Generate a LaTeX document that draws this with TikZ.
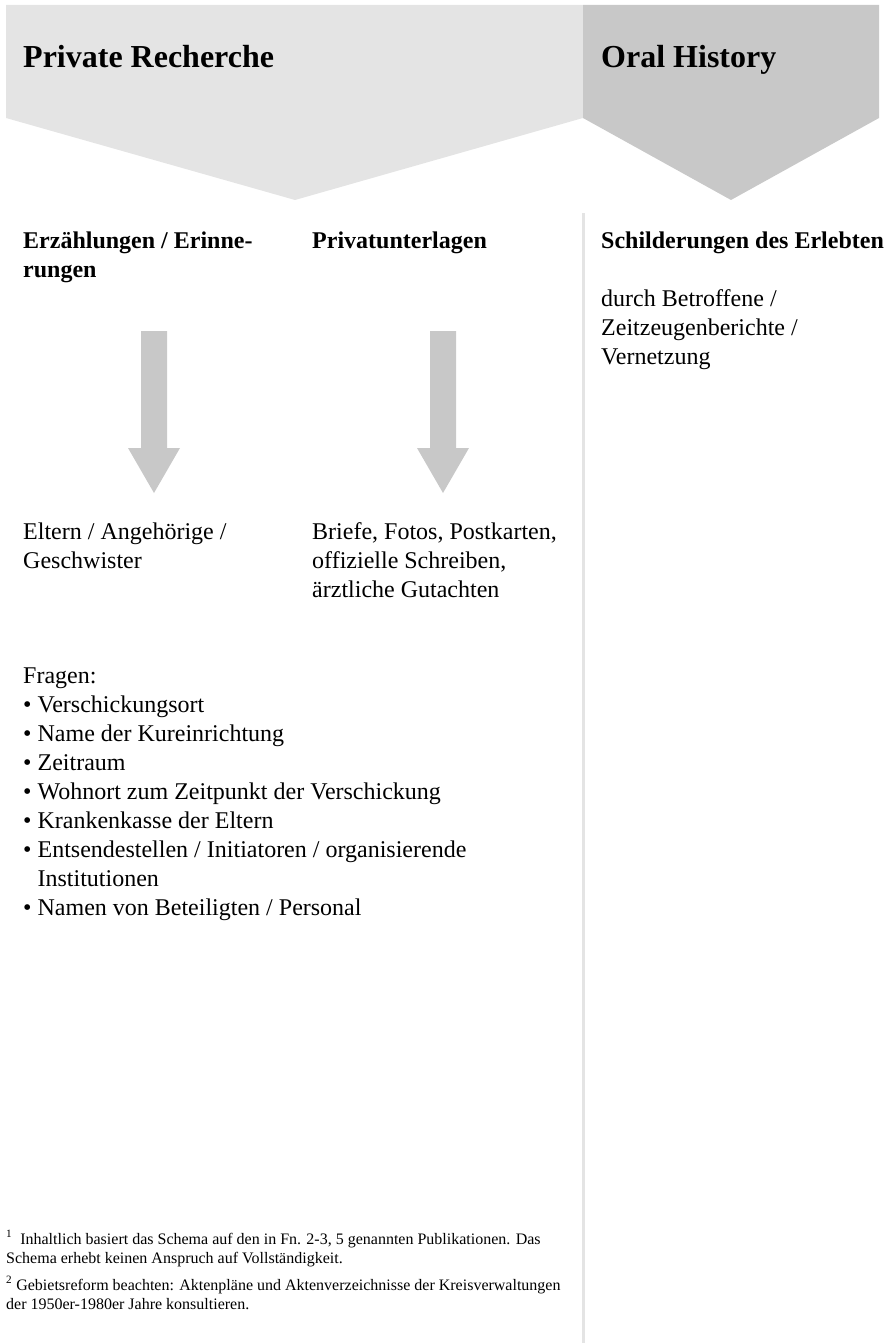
\documentclass[tikz,border=0pt]{standalone}
\usepackage{fontspec}
\setmainfont{Liberation Serif}
\usepackage{tikz}
\definecolor{headlight}{HTML}{E4E4E4}
\definecolor{headdark}{HTML}{C8C8C8}
\definecolor{arrowgray}{HTML}{C8C8C8}
\definecolor{rulegray}{HTML}{E4E4E4}
\tikzset{
  title/.style={anchor=base west, inner sep=0pt, font=\fontsize{32}{38}\selectfont\bfseries},
  heading/.style={anchor=base west, inner sep=0pt, align=left, font=\fontsize{24}{29}\selectfont\bfseries},
  body/.style={anchor=base west, inner sep=0pt, align=left, font=\fontsize{24}{29}\selectfont},
  fnote/.style={anchor=base west, inner sep=0pt, align=left, font=\fontsize{16}{19}\selectfont},
}

\begin{document}
\begin{tikzpicture}[x=1pt,y=-1pt]
\useasboundingbox (0,0) rectangle (884,1343);
% header
\fill[headlight] (6,5) -- (583,5) -- (583,118) -- (295,200) -- (6,118) -- cycle;
\fill[headdark] (583,5) -- (879,5) -- (879,118) -- (731,200) -- (583,118) -- cycle;
\node[title] (private) at (23,68) {Private Recherche};
\node[title] (oral) at (601,68) {Oral History};

% divider
\draw[rulegray, line width=3pt] (583,213) -- (583,1343);

% headings (multi-line nodes sit on their last baseline)
\node[heading] (erzaehl) at (23,277) {Erzählungen / Erinne-\\rungen};
\node[heading] (privat) at (312,248) {Privatunterlagen};
\node[heading] (schild) at (601,248) {Schilderungen des Erlebten};
\node[body] (betroffene) at (601,364) {durch Betroffene /\\Zeitzeugenberichte /\\Vernetzung};

% arrows
\foreach \x in {154,443}
  \fill[arrowgray] (\x-13,331) -- (\x+13,331) -- (\x+13,448) -- (\x+26,448)
    -- (\x,493) -- (\x-26,448) -- (\x-13,448) -- cycle;

% sources
\node[body] (eltern) at (23,568) {Eltern / Angehörige /\\Geschwister};
\node[body] (briefe) at (312,597) {Briefe, Fotos, Postkarten,\\offizielle Schreiben,\\ärztliche Gutachten};

% questions
\node[body] (fragen) at (23,915) {Fragen:\\
  • Verschickungsort\\
  • Name der Kureinrichtung\\
  • Zeitraum\\
  • Wohnort zum Zeitpunkt der Verschickung\\
  • Krankenkasse der Eltern\\
  • Entsendestellen / Initiatoren / organisierende\\
  \phantom{• }Institutionen\\
  • Namen von Beteiligten / Personal};

% footnotes
\node[fnote] (fn1) at (6,1263) {\textsuperscript{1}\ \ Inhaltlich basiert das Schema auf den in Fn. 2-3, 5 genannten Publikationen. Das\\Schema erhebt keinen Anspruch auf Vollständigkeit.};
\node[fnote] (fn2) at (6,1309) {\textsuperscript{2} Gebietsreform beachten: Aktenpläne und Aktenverzeichnisse der Kreisverwaltungen\\der 1950er-1980er Jahre konsultieren.};
\end{tikzpicture}
\end{document}
